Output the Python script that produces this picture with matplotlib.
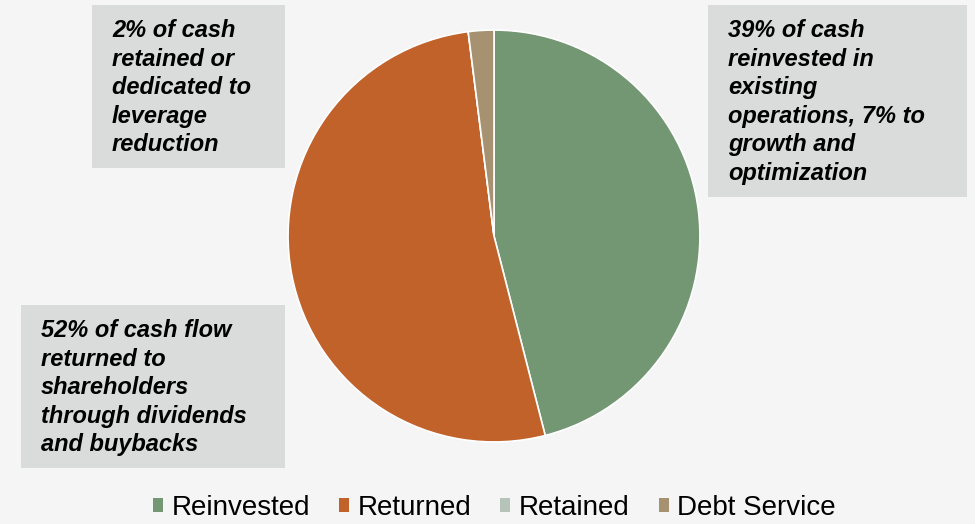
import matplotlib.pyplot as plt
from matplotlib.patches import Rectangle

# data
labels = ["Reinvested", "Returned", "Retained", "Debt Service"]
shares = [46, 52, 0, 2]
colors = ["#739673", "#c0622a", "#b5c3b8", "#a69170"]

notes = [
	"39% of cash\nreinvested in\nexisting\noperations, 7% to\ngrowth and\noptimization",
	"52% of cash flow\nreturned to\nshareholders\nthrough dividends\nand buybacks",
	"2% of cash\nretained or\ndedicated to\nleverage\nreduction",
]
# box rectangles in pixels: left, top, right, bottom
boxes = [(708, 5, 967, 197), (21, 305, 285, 468), (92, 5, 285, 168)]

W, H = 975, 524
bg = "#f5f5f5"
plt.rcParams["font.family"] = ["Liberation Sans", "DejaVu Sans"]

fig = plt.figure(figsize=(W / 100, H / 100), dpi=100, facecolor=bg)

cx, cy, r = 494, 236, 208
ax = fig.add_axes([(cx - r) / W, (H - cy - r) / H, 2 * r / W, 2 * r / H])
ax.set_facecolor(bg)
wedges, _ = ax.pie(shares, colors=colors, startangle=90, counterclock=False,
	wedgeprops=dict(edgecolor="white", linewidth=1.2), radius=1)
ax.set_xlim(-1.01, 1.01)
ax.set_ylim(-1.01, 1.01)
ax.set_aspect("equal")
ax.axis("off")

for (x0, y0, x1, y1), note in zip(boxes, notes):
	fig.patches.append(Rectangle((x0 / W, 1 - y1 / H), (x1 - x0) / W, (y1 - y0) / H,
		transform=fig.transFigure, facecolor="#d9dcda", edgecolor="none", zorder=0))
	fig.text((x0 + 20) / W, 1 - (y0 + 14) / H, note, fontsize=17, fontweight="bold",
		fontstyle="italic", color="black", va="top", ha="left", linespacing=1.31)

handles = [Rectangle((0, 0), 1, 1, facecolor=c, edgecolor="none") for c in colors]
fig.legend(handles, labels, loc="lower center", bbox_to_anchor=(0.507, -0.042), ncol=4,
	frameon=False, fontsize=20, handlelength=0.36, handleheight=0.36,
	handletextpad=0.3, columnspacing=1.05)

fig.savefig("out.png", dpi=100, facecolor=bg)
